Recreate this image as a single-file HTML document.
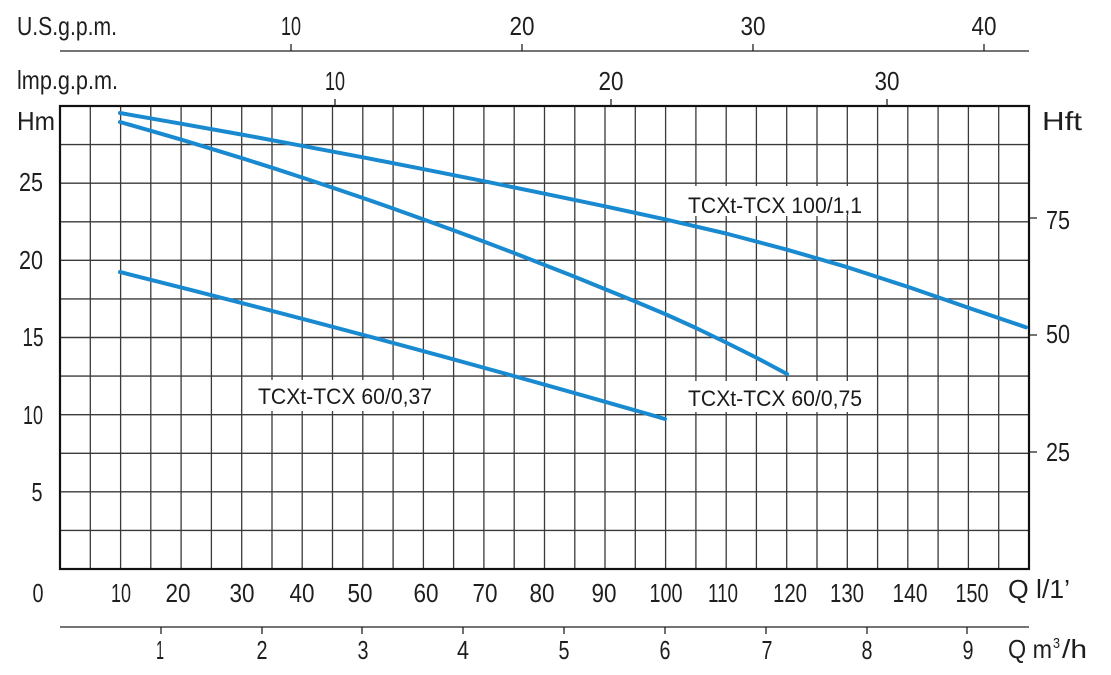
<!DOCTYPE html>
<html>
<head>
<meta charset="utf-8">
<style>
  html,body{margin:0;padding:0;background:#fff;}
  svg{display:block;}
  .ax{font-family:"Liberation Sans",sans-serif;font-size:26px;fill:#1e1e1e;}
  .lb{font-family:"Liberation Sans",sans-serif;font-size:22px;fill:#1a1a1a;}
</style>
</head>
<body>
<svg width="1111" height="675" viewBox="0 0 1111 675" xmlns="http://www.w3.org/2000/svg">
  <rect x="0" y="0" width="1111" height="675" fill="#fff"/>

  <!-- grid verticals -->
  <path stroke="#3a3a3a" stroke-width="1.3" fill="none" d="
    M90.3 106V569 M120.6 106V569 M150.8 106V569 M181.1 106V569 M211.4 106V569
    M241.7 106V569 M272 106V569 M302.2 106V569 M332.5 106V569 M362.8 106V569
    M393.1 106V569 M423.4 106V569 M453.6 106V569 M483.9 106V569 M514.2 106V569
    M544.5 106V569 M574.8 106V569 M605 106V569 M635.3 106V569 M665.6 106V569
    M695.9 106V569 M726.2 106V569 M756.4 106V569 M786.7 106V569 M817 106V569
    M847.3 106V569 M877.6 106V569 M907.8 106V569 M938.1 106V569 M968.4 106V569
    M998.7 106V569"/>
  <!-- grid horizontals -->
  <path stroke="#3a3a3a" stroke-width="1.4" fill="none" d="
    M60 144.6H1029 M60 183.2H1029 M60 221.8H1029 M60 260.3H1029 M60 298.9H1029
    M60 337.5H1029 M60 376.1H1029 M60 414.7H1029 M60 453.3H1029 M60 491.8H1029
    M60 530.4H1029"/>
  <!-- frame -->
  <rect x="60" y="106" width="969" height="463" fill="none" stroke="#111" stroke-width="2.2"/>

  <!-- top axes -->
  <line x1="60" y1="51" x2="1029" y2="51" stroke="#222" stroke-width="1.3"/>
  <path stroke="#222" stroke-width="1.3" d="M291 44V51 M522 44V51 M753 44V51 M984 44V51 M335 99V106 M611 99V106 M887 99V106"/>
  <!-- bottom m3/h axis -->
  <line x1="60" y1="627" x2="1029" y2="627" stroke="#222" stroke-width="1.3"/>
  <path stroke="#222" stroke-width="1.3" d="M161 627V634 M262 627V634 M362 627V634 M463 627V634 M564 627V634 M665 627V634 M766 627V634 M867 627V634 M967 627V634"/>
  <!-- right ticks -->
  <path stroke="#222" stroke-width="1.3" d="M1029 218H1037 M1029 335H1037 M1029 452H1037"/>

  <!-- curves -->
  <g fill="none" stroke="#1a8ad0" stroke-width="4" stroke-linejoin="round" stroke-linecap="round">
    <polyline points="120,113 181,123.7 242,134.6 302,145.8 363,157.3 423,169.1 484,181.2 544,193.6 605,206.3 665,219.3 726,233.5 787,249.7 847,267.1 908,286.9 968,307.6 1026,327.3"/>
    <polyline points="120,122 150,130.6 181,139.6 211,148.7 242,158.2 272,167.7 302,177.5 332,187.5 363,198 393,208.5 423,219.2 453,230.1 483,241.3 514,253 544,264.7 574,276.5 605,289.1 635,301.4 665,314 696,328 727,343 757,358 787,374"/>
    <path d="M120,272 Q396,341 665,419"/>
  </g>

  <!-- curve labels with white boxes -->
  <rect x="681" y="186" width="187" height="30" fill="#fff"/>
  <text class="lb" x="688" y="213" textLength="174" lengthAdjust="spacingAndGlyphs">TCXt-TCX 100/1,1</text>
  <rect x="681" y="381" width="187" height="31" fill="#fff"/>
  <text class="lb" x="688" y="406" textLength="174" lengthAdjust="spacingAndGlyphs">TCXt-TCX 60/0,75</text>
  <rect x="252" y="380" width="186" height="31" fill="#fff"/>
  <text class="lb" x="258" y="404" textLength="174" lengthAdjust="spacingAndGlyphs">TCXt-TCX 60/0,37</text>

  <!-- top labels -->
  <text class="ax" x="17" y="35" textLength="100" lengthAdjust="spacingAndGlyphs">U.S.g.p.m.</text>
  <text class="ax" x="17" y="89" textLength="101" lengthAdjust="spacingAndGlyphs">lmp.g.p.m.</text>
  <g class="ax" text-anchor="middle">
    <text x="291" y="35" textLength="20" lengthAdjust="spacingAndGlyphs">10</text>
    <text x="522" y="35" textLength="25" lengthAdjust="spacingAndGlyphs">20</text>
    <text x="753" y="35" textLength="25" lengthAdjust="spacingAndGlyphs">30</text>
    <text x="984" y="35" textLength="25" lengthAdjust="spacingAndGlyphs">40</text>
    <text x="335" y="90" textLength="20" lengthAdjust="spacingAndGlyphs">10</text>
    <text x="611" y="90" textLength="25" lengthAdjust="spacingAndGlyphs">20</text>
    <text x="887" y="90" textLength="25" lengthAdjust="spacingAndGlyphs">30</text>
  </g>
  <text class="ax" x="17" y="130" textLength="38" lengthAdjust="spacingAndGlyphs">Hm</text>
  <text class="ax" x="1042" y="130" textLength="40" lengthAdjust="spacingAndGlyphs">Hft</text>

  <!-- left axis -->
  <g class="ax" text-anchor="middle">
    <text x="31" y="191" textLength="24" lengthAdjust="spacingAndGlyphs">25</text>
    <text x="31" y="269" textLength="24" lengthAdjust="spacingAndGlyphs">20</text>
    <text x="33" y="346" textLength="21" lengthAdjust="spacingAndGlyphs">15</text>
    <text x="33" y="424" textLength="20" lengthAdjust="spacingAndGlyphs">10</text>
    <text x="37" y="501" textLength="11" lengthAdjust="spacingAndGlyphs">5</text>
    <text x="38" y="602" textLength="11" lengthAdjust="spacingAndGlyphs">0</text>
  </g>
  <!-- right axis -->
  <g class="ax" text-anchor="middle">
    <text x="1058" y="229" textLength="24" lengthAdjust="spacingAndGlyphs">75</text>
    <text x="1058" y="343" textLength="24" lengthAdjust="spacingAndGlyphs">50</text>
    <text x="1058" y="461" textLength="24" lengthAdjust="spacingAndGlyphs">25</text>
  </g>

  <!-- bottom Q l/1' -->
  <g class="ax" text-anchor="middle">
    <text x="121" y="602" textLength="20" lengthAdjust="spacingAndGlyphs">10</text>
    <text x="178" y="602" textLength="25" lengthAdjust="spacingAndGlyphs">20</text>
    <text x="242" y="602" textLength="25" lengthAdjust="spacingAndGlyphs">30</text>
    <text x="302" y="602" textLength="25" lengthAdjust="spacingAndGlyphs">40</text>
    <text x="360" y="602" textLength="25" lengthAdjust="spacingAndGlyphs">50</text>
    <text x="426" y="602" textLength="25" lengthAdjust="spacingAndGlyphs">60</text>
    <text x="485" y="602" textLength="25" lengthAdjust="spacingAndGlyphs">70</text>
    <text x="542" y="602" textLength="25" lengthAdjust="spacingAndGlyphs">80</text>
    <text x="604" y="602" textLength="25" lengthAdjust="spacingAndGlyphs">90</text>
    <text x="666" y="602" textLength="33" lengthAdjust="spacingAndGlyphs">100</text>
    <text x="723" y="602" textLength="30" lengthAdjust="spacingAndGlyphs">110</text>
    <text x="790" y="602" textLength="34" lengthAdjust="spacingAndGlyphs">120</text>
    <text x="847" y="602" textLength="34" lengthAdjust="spacingAndGlyphs">130</text>
    <text x="910" y="602" textLength="35" lengthAdjust="spacingAndGlyphs">140</text>
    <text x="972" y="602" textLength="33" lengthAdjust="spacingAndGlyphs">150</text>
  </g>
  <text class="ax" x="1008" y="598" textLength="62" lengthAdjust="spacingAndGlyphs">Q l/1’</text>

  <!-- bottom m3/h -->
  <g class="ax" text-anchor="middle">
    <text x="160" y="659" textLength="8" lengthAdjust="spacingAndGlyphs">1</text>
    <text x="262" y="659" textLength="11" lengthAdjust="spacingAndGlyphs">2</text>
    <text x="363" y="659" textLength="11" lengthAdjust="spacingAndGlyphs">3</text>
    <text x="463" y="659" textLength="12" lengthAdjust="spacingAndGlyphs">4</text>
    <text x="564" y="659" textLength="11" lengthAdjust="spacingAndGlyphs">5</text>
    <text x="665" y="659" textLength="11" lengthAdjust="spacingAndGlyphs">6</text>
    <text x="767" y="659" textLength="11" lengthAdjust="spacingAndGlyphs">7</text>
    <text x="867" y="659" textLength="11" lengthAdjust="spacingAndGlyphs">8</text>
    <text x="968" y="659" textLength="11" lengthAdjust="spacingAndGlyphs">9</text>
  </g>
  <text class="ax" x="1008" y="658" textLength="44" lengthAdjust="spacingAndGlyphs">Q m</text>
  <text class="ax" x="1053" y="648" style="font-size:15px" textLength="7" lengthAdjust="spacingAndGlyphs">3</text>
  <text class="ax" x="1062" y="658" textLength="25" lengthAdjust="spacingAndGlyphs">/h</text>
</svg>
</body>
</html>
